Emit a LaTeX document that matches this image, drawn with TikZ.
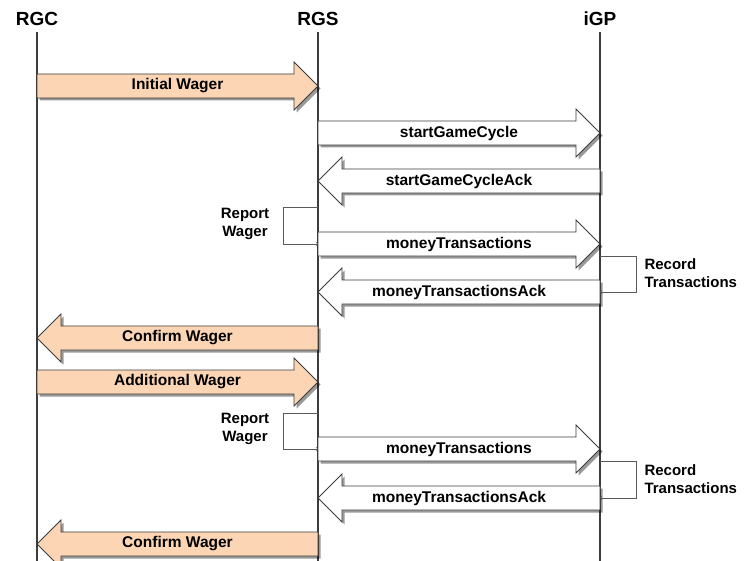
\documentclass[tikz,border=0pt]{standalone}
\usepackage{fontspec}
\setmainfont{Liberation Sans}
\usetikzlibrary{calc}
\usetikzlibrary{shadows}
\usetikzlibrary{positioning}
\definecolor{wagerfill}{HTML}{FCD5B5}
\definecolor{edgeclr}{HTML}{3C3C3C}
\tikzset{
header/.style={ % Names of the three parties
font=\fontsize{19}{21}\selectfont\bfseries,
inner sep=6pt},
lifeline/.style={draw=edgeclr, line width=1.2pt},
msg/.style={ % Block arrow for a message
draw=edgeclr, line width=0.9pt, fill=white,
drop shadow={shadow xshift=2.5pt, shadow yshift=-2.5pt, fill=black, opacity=0.4}},
wager/.style={msg, fill=wagerfill},
msglabel/.style={font=\fontsize{15.5}{17}\selectfont\bfseries},
note/.style={font=\fontsize{15}{18}\selectfont\bfseries, align=center},
selfline/.style={draw=gray!70!black, line width=0.6pt, ->}}
% #1 style, #2 tail, #3 tip, #4 name, #5 label
\newcommand{\blockmsg}[5]{%
\filldraw[#1] let \p1=(#2), \p2=(#3), \p3=($(#3)!24pt!(#2)$) in
(\x1,\y1+12pt) -- (\x3,\y1+12pt) -- (\x3,\y1+24pt) -- (\p2)
-- (\x3,\y1-24pt) -- (\x3,\y1-12pt) -- (\x1,\y1-12pt) -- cycle;
\node[msglabel] (#4) at ($(#2)!0.5!(#3)$) {#5};}

\begin{document}
\begin{tikzpicture}[x=1pt, y=-1pt]
\useasboundingbox (0,0) rectangle (746,561);
\coordinate (bottom) at (0,561);
\node[header] (rgc) at (37,19) {RGC};
\node[header] (rgs) at (318,19) {RGS};
\node[header] (igp) at (600,19) {iGP};
\foreach \p in {rgc, rgs, igp}
\draw[lifeline] (\p.south) -- (\p |- bottom);

\foreach \n/\y in {m1/86, m2/133, m3/181, m4/244, m5/292,
m6/338, m7/382, m8/449, m9/498, m10/544}
\coordinate (\n) at (0,\y);

% first wager
\blockmsg{wager}{rgc|-m1}{rgs|-m1}{initwager}{Initial Wager}
\blockmsg{msg}{rgs|-m2}{igp|-m2}{startgc}{startGameCycle}
\blockmsg{msg}{igp|-m3}{rgs|-m3}{startgcack}{startGameCycleAck}
\blockmsg{msg}{rgs|-m4}{igp|-m4}{money1}{moneyTransactions}
\blockmsg{msg}{igp|-m5}{rgs|-m5}{moneyack1}{moneyTransactionsAck}
\blockmsg{wager}{rgs|-m6}{rgc|-m6}{confirm1}{Confirm Wager}

% additional wager
\blockmsg{wager}{rgc|-m7}{rgs|-m7}{addwager}{Additional Wager}
\blockmsg{msg}{rgs|-m8}{igp|-m8}{money2}{moneyTransactions}
\blockmsg{msg}{igp|-m9}{rgs|-m9}{moneyack2}{moneyTransactionsAck}
\blockmsg{wager}{rgs|-m10}{rgc|-m10}{confirm2}{Confirm Wager}

% self messages
\draw[selfline] ($(rgs|-m4)+(0,-37)$) -- ++(-35,0) |- (rgs|-m4);
\node[note] (report1) at ($(rgs|-m4)+(-73,-20)$) {Report\\Wager};
\draw[selfline] ($(igp|-m5)+(0,-36)$) -- ++(36,0) |- (igp|-m5);
\node[note, align=left, anchor=west] (record1) at ($(igp|-m5)+(41,-19)$) {Record\\Transactions};
\draw[selfline] ($(rgs|-m8)+(0,-36)$) -- ++(-35,0) |- (rgs|-m8);
\node[note] (report2) at ($(rgs|-m8)+(-73,-20)$) {Report\\Wager};
\draw[selfline] ($(igp|-m9)+(0,-37)$) -- ++(36,0) |- (igp|-m9);
\node[note, align=left, anchor=west] (record2) at ($(igp|-m9)+(41,-19)$) {Record\\Transactions};
\end{tikzpicture}
\end{document}
